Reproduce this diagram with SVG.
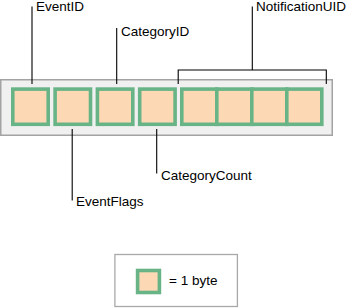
<svg xmlns="http://www.w3.org/2000/svg" width="349" height="308" viewBox="0 0 349 308">
  <style>
    .byte { fill: #fcd9b4; stroke: #68b487; stroke-width: 3.6; }
    .lbl { font-family: "Liberation Sans", Arial, sans-serif; font-size: 13.5px; fill: #000; }
    .ld { stroke: #000; stroke-width: 1.1; fill: none; }
  </style>
  <rect id="container" x="0.75" y="79.75" width="331.5" height="55.5" fill="#f0f0f0" stroke="#a3a3a3" stroke-width="1.5"/>
  <g id="EventID">
    <rect class="byte" x="12.8" y="89.1" width="35.4" height="35.2"/>
    <text class="lbl" x="36" y="11.2">EventID</text>
  </g>
  <g id="EventFlags">
    <rect class="byte" x="55.1" y="89.1" width="35.4" height="35.2"/>
    <text class="lbl" x="76" y="205.5">EventFlags</text>
  </g>
  <g id="CategoryID">
    <rect class="byte" x="97.4" y="89.1" width="35.4" height="35.2"/>
    <text class="lbl" x="121" y="36">CategoryID</text>
  </g>
  <g id="CategoryCount">
    <rect class="byte" x="139.7" y="89.1" width="35.4" height="35.2"/>
    <text class="lbl" x="161" y="179.5">CategoryCount</text>
  </g>
  <g id="NotificationUID">
    <rect class="byte" x="181.8" y="89.1" width="35" height="35.2"/>
    <rect class="byte" x="216.8" y="89.1" width="35" height="35.2"/>
    <rect class="byte" x="251.8" y="89.1" width="35" height="35.2"/>
    <rect class="byte" x="286.8" y="89.1" width="35" height="35.2"/>
    <text class="lbl" x="256" y="11.2">NotificationUID</text>
  </g>
  <g id="connectors">
    <line class="ld" x1="32" y1="6.5" x2="32" y2="84"/>
    <line class="ld" x1="116.7" y1="28" x2="116.7" y2="84"/>
    <line class="ld" x1="72.2" y1="129" x2="72.2" y2="200.5"/>
    <line class="ld" x1="156.7" y1="129" x2="156.7" y2="173.5"/>
    <line class="ld" x1="252.3" y1="6.5" x2="252.3" y2="70"/>
    <polyline class="ld" points="178.2,84 178.2,70 326.3,70 326.3,84"/>
  </g>
  <g id="legend">
    <rect x="114.9" y="254.5" width="122.5" height="52" fill="#ffffff" stroke="#a8a8a8" stroke-width="1.3"/>
    <rect class="byte" x="137.6" y="270.5" width="21.8" height="22" stroke-width="3.2"/>
    <text class="lbl" x="169" y="285.3">= 1 byte</text>
  </g>
</svg>
